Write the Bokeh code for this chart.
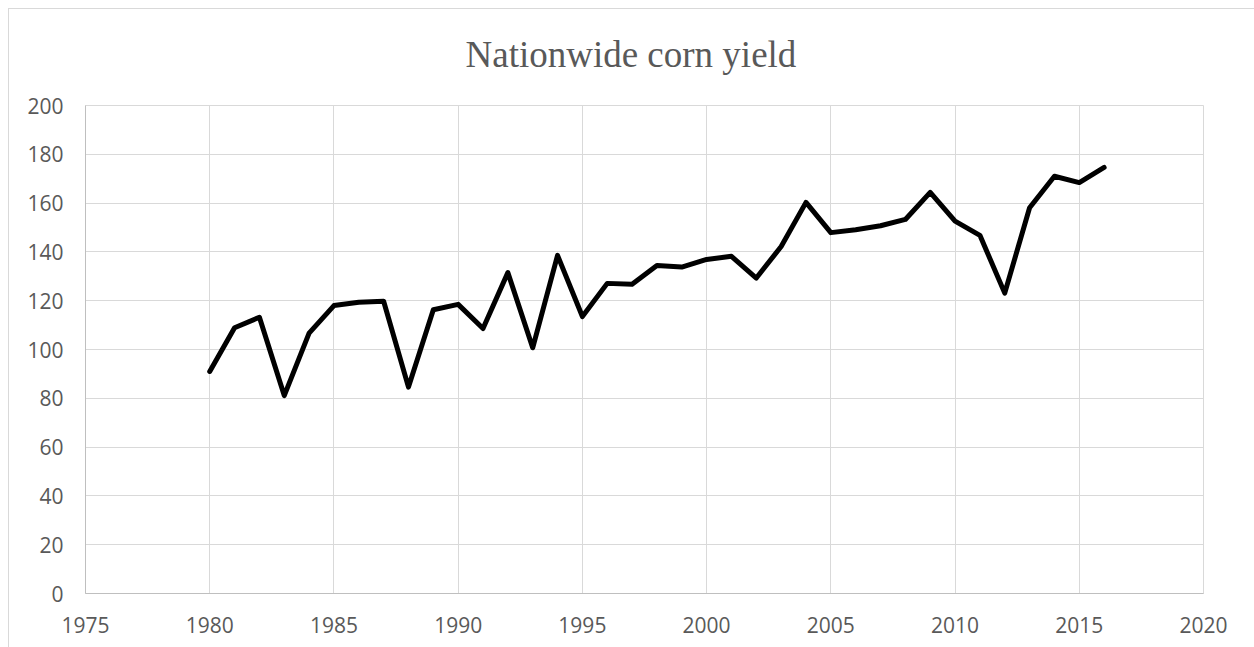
from bokeh.plotting import figure
from bokeh.models import Range1d, SingleIntervalTicker
from bokeh.embed import file_html
from bokeh.resources import INLINE

years = list(range(1980, 2017))
yield_bu = [91.0, 108.9, 113.2, 81.1, 106.7, 118.0, 119.4, 119.8, 84.6, 116.3,
            118.5, 108.6, 131.5, 100.7, 138.6, 113.5, 127.1, 126.7, 134.4, 133.8,
            136.9, 138.2, 129.3, 142.2, 160.3, 147.9, 149.1, 150.7, 153.3, 164.4,
            152.6, 146.8, 123.1, 158.1, 171.0, 168.4, 174.6]
title_text = "Nationwide corn yield"

p = figure(width=1254, height=647, output_backend="svg", toolbar_location=None,
           x_range=Range1d(1975, 2020), y_range=Range1d(0, 200),
           min_border_left=85, min_border_right=51, min_border_top=105,
           min_border_bottom=54, title=title_text)
# chart-area border (left and top edges visible, as in the reference)
p.styles = {
    "background": ("linear-gradient(#d9d9d9, #d9d9d9) 8px 8px / 1px 100% no-repeat, "
                   "linear-gradient(#d9d9d9, #d9d9d9) 8px 8px / 100% 1px no-repeat, "
                   "white"),
}
p.border_fill_alpha = 0

p.title.text_font = "Liberation Serif"
p.title.text_font_size = "37px"
p.title.text_font_style = "normal"
p.title.text_color = "#595959"
p.title.align = "left"
p.title.offset = 380
p.title.standoff = 62

p.line(years, yield_bu, line_color="black", line_width=5,
       line_cap="round", line_join="round")

p.xaxis.ticker = SingleIntervalTicker(interval=5, num_minor_ticks=0)
p.yaxis.ticker = SingleIntervalTicker(interval=20, num_minor_ticks=0)
for ax in (p.xaxis, p.yaxis):
    ax.major_tick_line_color = None
    ax.minor_tick_line_color = None
    ax.axis_line_color = "#bfbfbf"
    ax.axis_line_width = 1
    ax.major_label_text_font = "Open Sans"
    ax.major_label_text_font_size = "21px"
    ax.major_label_text_color = "#595959"
p.xaxis.major_label_standoff = 17
p.yaxis.major_label_standoff = 16

p.xgrid.grid_line_color = "#d9d9d9"
p.ygrid.grid_line_color = "#d9d9d9"
p.outline_line_color = "#d9d9d9"
p.outline_line_width = 1
p.background_fill_color = "white"

open("out.html", "w").write(file_html(p, INLINE))
